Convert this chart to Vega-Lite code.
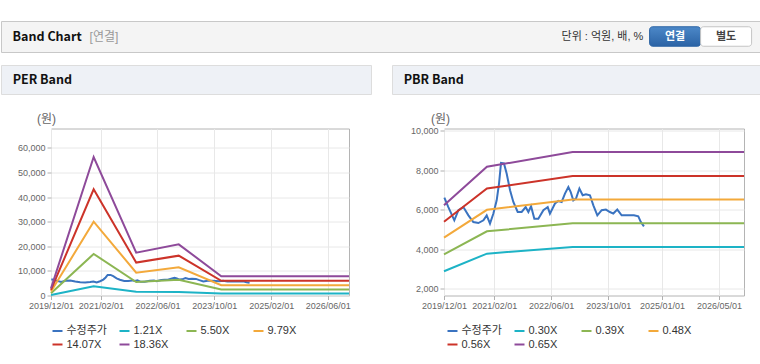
{
  "$schema": "https://vega.github.io/schema/vega-lite/v6.json",
  "background": "white",
  "padding": {"left": 0, "top": 20, "right": 0, "bottom": 0},
  "spacing": 11,
  "config": {
    "font": "'Liberation Sans', 'Noto Sans CJK KR', sans-serif",
    "view": {"stroke": null},
    "axis": {"labelFontSize": 9, "labelColor": "#666666", "gridColor": "#e8e8e8", "tickColor": "#b0b0b0", "tickSize": 4, "labelPadding": 2, "domain": false, "titleFontWeight": "normal"},
    "legend": {"orient": "none", "title": null, "columns": 4, "direction": "horizontal", "gridAlign": "all", "symbolType": "stroke", "symbolSize": 100, "symbolStrokeWidth": 2, "labelFontSize": 11, "labelColor": "#333333", "columnPadding": 8, "rowPadding": 2.5, "labelOffset": 3, "padding": 0}
  },
  "datasets": {
    "price": [
      {"date": "2019-12-04", "series": "수정주가", "value": 6620},
      {"date": "2020-01-07", "series": "수정주가", "value": 6140},
      {"date": "2020-02-27", "series": "수정주가", "value": 5470},
      {"date": "2020-04-02", "series": "수정주가", "value": 5980},
      {"date": "2020-05-14", "series": "수정주가", "value": 6140},
      {"date": "2020-06-26", "series": "수정주가", "value": 5720},
      {"date": "2020-08-07", "series": "수정주가", "value": 5380},
      {"date": "2020-09-19", "series": "수정주가", "value": 5330},
      {"date": "2020-11-01", "series": "수정주가", "value": 5470},
      {"date": "2020-11-29", "series": "수정주가", "value": 5720},
      {"date": "2020-12-27", "series": "수정주가", "value": 5300},
      {"date": "2021-01-25", "series": "수정주가", "value": 5810},
      {"date": "2021-02-22", "series": "수정주가", "value": 6480},
      {"date": "2021-03-14", "series": "수정주가", "value": 7330},
      {"date": "2021-03-31", "series": "수정주가", "value": 8380},
      {"date": "2021-04-25", "series": "수정주가", "value": 8350},
      {"date": "2021-05-18", "series": "수정주가", "value": 7840},
      {"date": "2021-06-16", "series": "수정주가", "value": 6990},
      {"date": "2021-07-14", "series": "수정주가", "value": 6400},
      {"date": "2021-08-20", "series": "수정주가", "value": 5890},
      {"date": "2021-09-23", "series": "수정주가", "value": 5890},
      {"date": "2021-10-27", "series": "수정주가", "value": 6140},
      {"date": "2021-11-19", "series": "수정주가", "value": 5890},
      {"date": "2021-12-12", "series": "수정주가", "value": 6180},
      {"date": "2022-01-09", "series": "수정주가", "value": 5550},
      {"date": "2022-02-12", "series": "수정주가", "value": 5550},
      {"date": "2022-03-27", "series": "수정주가", "value": 5980},
      {"date": "2022-05-03", "series": "수정주가", "value": 6140},
      {"date": "2022-05-22", "series": "수정주가", "value": 5810},
      {"date": "2022-07-04", "series": "수정주가", "value": 6320},
      {"date": "2022-08-02", "series": "수정주가", "value": 6450},
      {"date": "2022-08-30", "series": "수정주가", "value": 6400},
      {"date": "2022-09-27", "series": "수정주가", "value": 6820},
      {"date": "2022-10-26", "series": "수정주가", "value": 7160},
      {"date": "2022-11-15", "series": "수정주가", "value": 6900},
      {"date": "2022-12-07", "series": "수정주가", "value": 6480},
      {"date": "2022-12-30", "series": "수정주가", "value": 6570},
      {"date": "2023-01-28", "series": "수정주가", "value": 7080},
      {"date": "2023-02-25", "series": "수정주가", "value": 6740},
      {"date": "2023-03-25", "series": "수정주가", "value": 6790},
      {"date": "2023-04-28", "series": "수정주가", "value": 6740},
      {"date": "2023-05-27", "series": "수정주가", "value": 6230},
      {"date": "2023-06-30", "series": "수정주가", "value": 5720},
      {"date": "2023-08-06", "series": "수정주가", "value": 5980},
      {"date": "2023-09-11", "series": "수정주가", "value": 6010},
      {"date": "2023-10-15", "series": "수정주가", "value": 5890},
      {"date": "2023-11-13", "series": "수정주가", "value": 5810},
      {"date": "2023-12-17", "series": "수정주가", "value": 6010},
      {"date": "2024-01-23", "series": "수정주가", "value": 5720},
      {"date": "2024-03-06", "series": "수정주가", "value": 5720},
      {"date": "2024-05-07", "series": "수정주가", "value": 5720},
      {"date": "2024-06-13", "series": "수정주가", "value": 5670},
      {"date": "2024-07-05", "series": "수정주가", "value": 5380},
      {"date": "2024-07-31", "series": "수정주가", "value": 5160}
    ],
    "per": [
      {"date": "2019-12-01", "series": "1.21X", "value": 200},
      {"date": "2020-12-01", "series": "1.21X", "value": 3800},
      {"date": "2021-12-01", "series": "1.21X", "value": 1500},
      {"date": "2022-12-01", "series": "1.21X", "value": 1450},
      {"date": "2023-12-01", "series": "1.21X", "value": 780},
      {"date": "2026-12-01", "series": "1.21X", "value": 780},
      {"date": "2019-12-01", "series": "5.50X", "value": 900},
      {"date": "2020-12-01", "series": "5.50X", "value": 16900},
      {"date": "2021-12-01", "series": "5.50X", "value": 5500},
      {"date": "2022-12-01", "series": "5.50X", "value": 6400},
      {"date": "2023-12-01", "series": "5.50X", "value": 2450},
      {"date": "2026-12-01", "series": "5.50X", "value": 2450},
      {"date": "2019-12-01", "series": "9.79X", "value": 1600},
      {"date": "2020-12-01", "series": "9.79X", "value": 30000},
      {"date": "2021-12-01", "series": "9.79X", "value": 9300},
      {"date": "2022-12-01", "series": "9.79X", "value": 11500},
      {"date": "2023-12-01", "series": "9.79X", "value": 4200},
      {"date": "2026-12-01", "series": "9.79X", "value": 4200},
      {"date": "2019-12-01", "series": "14.07X", "value": 2250},
      {"date": "2020-12-01", "series": "14.07X", "value": 43200},
      {"date": "2021-12-01", "series": "14.07X", "value": 13400},
      {"date": "2022-12-01", "series": "14.07X", "value": 16200},
      {"date": "2023-12-01", "series": "14.07X", "value": 6000},
      {"date": "2026-12-01", "series": "14.07X", "value": 6000},
      {"date": "2019-12-01", "series": "18.36X", "value": 2950},
      {"date": "2020-12-01", "series": "18.36X", "value": 56300},
      {"date": "2021-12-01", "series": "18.36X", "value": 17400},
      {"date": "2022-12-01", "series": "18.36X", "value": 20800},
      {"date": "2023-12-01", "series": "18.36X", "value": 7850},
      {"date": "2026-12-01", "series": "18.36X", "value": 7850}
    ],
    "pbr": [
      {"date": "2019-12-01", "series": "0.30X", "value": 2890},
      {"date": "2020-12-01", "series": "0.30X", "value": 3780},
      {"date": "2022-12-01", "series": "0.30X", "value": 4120},
      {"date": "2026-12-01", "series": "0.30X", "value": 4120},
      {"date": "2019-12-01", "series": "0.39X", "value": 3740},
      {"date": "2020-12-01", "series": "0.39X", "value": 4910},
      {"date": "2022-12-01", "series": "0.39X", "value": 5320},
      {"date": "2026-12-01", "series": "0.39X", "value": 5320},
      {"date": "2019-12-01", "series": "0.48X", "value": 4590},
      {"date": "2020-12-01", "series": "0.48X", "value": 6000},
      {"date": "2022-12-01", "series": "0.48X", "value": 6520},
      {"date": "2026-12-01", "series": "0.48X", "value": 6520},
      {"date": "2019-12-01", "series": "0.56X", "value": 5400},
      {"date": "2020-12-01", "series": "0.56X", "value": 7080},
      {"date": "2022-12-01", "series": "0.56X", "value": 7710},
      {"date": "2026-12-01", "series": "0.56X", "value": 7710},
      {"date": "2019-12-01", "series": "0.65X", "value": 6230},
      {"date": "2020-12-01", "series": "0.65X", "value": 8180},
      {"date": "2022-12-01", "series": "0.65X", "value": 8930},
      {"date": "2026-12-01", "series": "0.65X", "value": 8930}
    ]
  },
  "vconcat": [
    {
      "width": 760,
      "height": 31,
      "view": {"fill": "#f4f4f4", "stroke": "#c8c8c8"},
      "resolve": {"scale": {"x": "independent"}},
      "layer": [
        {
          "data": {"values": [{"label": "Band Chart", "role": "title"}, {"label": "[연결]", "role": "note"}]},
          "encoding": {
            "x": {"field": "label", "type": "nominal", "bandPosition": 0, "axis": null, "scale": {"type": "band", "domain": ["Band Chart", "[연결]"], "range": [11.6, 165.6], "paddingInner": 0, "paddingOuter": 0}},
            "text": {"field": "label"}
          },
          "layer": [
            {"transform": [{"filter": "datum.role === 'title'"}], "mark": {"type": "text", "align": "left", "baseline": "middle", "font": "'Noto Sans CJK KR', sans-serif", "fontSize": 12.5, "fontWeight": "bold", "color": "#111111"}},
            {"transform": [{"filter": "datum.role === 'note'"}], "mark": {"type": "text", "align": "left", "baseline": "middle", "fontSize": 12, "color": "#999999"}}
          ]
        },
        {
          "data": {"values": [{"label": "단위 : 억원, 배, %", "role": "unit"}, {"label": "연결", "role": "on"}, {"label": "별도", "role": "off"}]},
          "encoding": {
            "x": {"field": "label", "type": "nominal", "axis": null, "scale": {"type": "band", "domain": ["단위 : 억원, 배, %", "연결", "별도"], "range": [597.6, 750.6], "paddingInner": 0, "paddingOuter": 0}},
            "y": {"datum": "button", "type": "nominal", "axis": null, "scale": {"type": "band", "paddingInner": 0, "paddingOuter": 0.295}}
          },
          "layer": [
            {"transform": [{"filter": "datum.role === 'on'"}], "mark": {"type": "rect", "cornerRadius": 3, "stroke": "#2c64a4", "strokeWidth": 1, "fill": {"gradient": "linear", "x1": 0, "y1": 0, "x2": 0, "y2": 1, "stops": [{"offset": 0, "color": "#4c88c8"}, {"offset": 1, "color": "#2b63a5"}]}}},
            {"transform": [{"filter": "datum.role === 'off'"}], "mark": {"type": "rect", "cornerRadius": 3, "stroke": "#c4c4c4", "strokeWidth": 1, "fill": "#ffffff"}},
            {"transform": [{"filter": "datum.role === 'unit'"}], "mark": {"type": "text", "align": "right", "baseline": "middle", "dx": 19.2, "fontSize": 11, "color": "#333333"}, "encoding": {"text": {"field": "label"}}},
            {"transform": [{"filter": "datum.role === 'on'"}], "mark": {"type": "text", "baseline": "middle", "fontSize": 11, "fontWeight": "bold", "color": "#ffffff"}, "encoding": {"text": {"field": "label"}}},
            {"transform": [{"filter": "datum.role === 'off'"}], "mark": {"type": "text", "baseline": "middle", "fontSize": 11, "fontWeight": "bold", "color": "#444444"}, "encoding": {"text": {"field": "label"}}}
          ]
        }
      ]
    },
    {
      "spacing": 16.5,
      "vconcat": [
        {
          "spacing": 19,
          "hconcat": [
            {
              "width": 370,
              "height": 29,
              "view": {"fill": "#eef1f6", "stroke": "#dddddd"},
              "data": {"values": [{"panel": "PER Band"}]},
              "mark": {"type": "text", "align": "left", "baseline": "middle", "font": "'Noto Sans CJK KR', sans-serif", "fontSize": 12.5, "fontWeight": "bold", "color": "#111111"},
              "encoding": {
                "x": {"field": "panel", "type": "nominal", "bandPosition": 0, "axis": null, "scale": {"type": "band", "range": [11.7, 370], "paddingInner": 0, "paddingOuter": 0}},
                "text": {"field": "panel"}
              }
            },
            {
              "width": 370,
              "height": 29,
              "view": {"fill": "#eef1f6", "stroke": "#dddddd"},
              "data": {"values": [{"panel": "PBR Band"}]},
              "mark": {"type": "text", "align": "left", "baseline": "middle", "font": "'Noto Sans CJK KR', sans-serif", "fontSize": 12.5, "fontWeight": "bold", "color": "#111111"},
              "encoding": {
                "x": {"field": "panel", "type": "nominal", "bandPosition": 0, "axis": null, "scale": {"type": "band", "range": [11.7, 370], "paddingInner": 0, "paddingOuter": 0}},
                "text": {"field": "panel"}
              }
            }
          ]
        },
        {
          "spacing": 14,
          "vconcat": [
            {
              "spacing": 0,
              "resolve": {"scale": {"color": "independent"}, "legend": {"color": "independent"}},
              "hconcat": [
                {
                  "width": 1,
                  "height": 1,
                  "data": {"values": [{}]},
                  "mark": "text",
                  "encoding": {"text": {"value": ""}}
                },
                {
                  "width": 298,
                  "height": 167,
                  "view": {"stroke": "#b4b4b4"},
                  "encoding": {
                    "x": {"field": "date", "type": "temporal", "scale": {"type": "utc", "domain": [{"year": 2019, "month": 12, "date": 1, "utc": true}, {"year": 2026, "month": 12, "date": 1, "utc": true}]}, "axis": {"title": null, "grid": true, "labelOverlap": false, "labelFlush": false, "values": [{"year": 2019, "month": 12, "date": 1, "utc": true}, {"year": 2021, "month": 2, "date": 1, "utc": true}, {"year": 2022, "month": 6, "date": 1, "utc": true}, {"year": 2023, "month": 10, "date": 1, "utc": true}, {"year": 2025, "month": 2, "date": 1, "utc": true}, {"year": 2026, "month": 6, "date": 1, "utc": true}], "labelExpr": "utcFormat(datum.value, '%Y/%m/%d')"}},
                    "y": {"field": "value", "type": "quantitative", "scale": {"domain": [0, 67900], "nice": false, "zero": false}, "axis": {"values": [0, 10000, 20000, 30000, 40000, 50000, 60000], "format": ",d", "grid": true, "title": "(원)", "titleAngle": 0, "titleAlign": "center", "titleBaseline": "middle", "titleX": -5, "titleY": -10, "titleFontSize": 12, "titleColor": "#666666", "minExtent": 48.3}},
                    "color": {"field": "series", "type": "nominal", "scale": {"domain": ["수정주가", "1.21X", "5.50X", "9.79X", "14.07X", "18.36X"], "range": ["#3a73c0", "#1db3c6", "#8cb653", "#f3a93b", "#cc3329", "#8e4a9a"]}, "legend": {"legendX": 0.5, "legendY": 196.5}}
                  },
                  "layer": [
                    {"data": {"name": "price"}, "mark": {"type": "line", "strokeWidth": 2}},
                    {"data": {"name": "per"}, "mark": {"type": "line", "strokeWidth": 2}}
                  ]
                },
                {
                  "width": 300,
                  "height": 167,
                  "view": {"stroke": "#b4b4b4"},
                  "encoding": {
                    "x": {"field": "date", "type": "temporal", "scale": {"type": "utc", "domain": [{"year": 2019, "month": 12, "date": 1, "utc": true}, {"year": 2026, "month": 12, "date": 1, "utc": true}]}, "axis": {"title": null, "grid": true, "labelOverlap": false, "labelFlush": false, "values": [{"year": 2019, "month": 12, "date": 1, "utc": true}, {"year": 2021, "month": 2, "date": 1, "utc": true}, {"year": 2022, "month": 6, "date": 1, "utc": true}, {"year": 2023, "month": 10, "date": 1, "utc": true}, {"year": 2025, "month": 1, "date": 1, "utc": true}, {"year": 2026, "month": 5, "date": 1, "utc": true}], "labelExpr": "utcFormat(datum.value, '%Y/%m/%d')"}},
                    "y": {"field": "value", "type": "quantitative", "scale": {"domain": [1660, 10120], "nice": false, "zero": false}, "axis": {"values": [2000, 4000, 6000, 8000, 10000], "format": ",d", "grid": true, "title": "(원)", "titleAngle": 0, "titleAlign": "center", "titleBaseline": "middle", "titleX": -4, "titleY": -10, "titleFontSize": 12, "titleColor": "#666666", "minExtent": 88.8}},
                    "color": {"field": "series", "type": "nominal", "scale": {"domain": ["수정주가", "0.30X", "0.39X", "0.48X", "0.56X", "0.65X"], "range": ["#3a73c0", "#1db3c6", "#8cb653", "#f3a93b", "#cc3329", "#8e4a9a"]}, "legend": {"legendX": 2.5, "legendY": 196.5}}
                  },
                  "layer": [
                    {"data": {"name": "price"}, "mark": {"type": "line", "strokeWidth": 2}},
                    {"data": {"name": "pbr"}, "mark": {"type": "line", "strokeWidth": 2}}
                  ]
                }
              ]
            },
            {
              "spacing": 19,
              "hconcat": [
                {
                  "width": 370,
                  "height": 1,
                  "view": {"fill": "#d6d6d6", "stroke": null},
                  "data": {"values": [{}]},
                  "mark": "text",
                  "encoding": {"text": {"value": ""}}
                },
                {
                  "width": 370,
                  "height": 1,
                  "view": {"fill": "#d6d6d6", "stroke": null},
                  "data": {"values": [{}]},
                  "mark": "text",
                  "encoding": {"text": {"value": ""}}
                }
              ]
            }
          ]
        }
      ]
    }
  ]
}
